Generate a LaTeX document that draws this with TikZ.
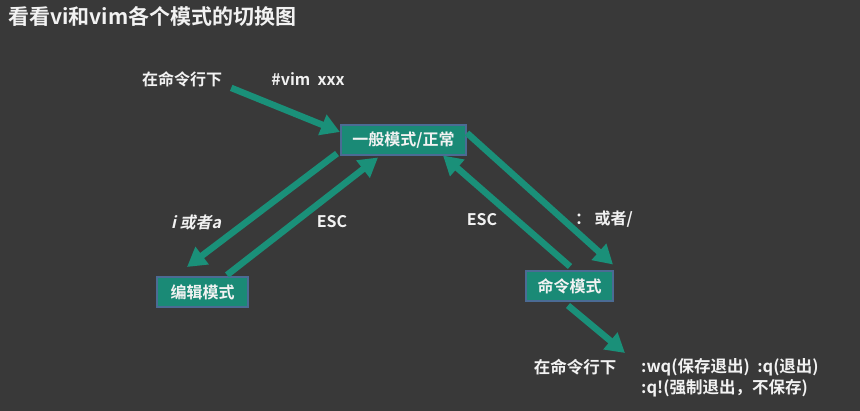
\documentclass[tikz,border=0pt]{standalone}
\usepackage{fontspec}
\setmainfont{Noto Sans CJK SC}[BoldFont={* Bold}]
\newfontfamily\slantcjk{Noto Sans CJK SC Bold}[FakeSlant=0.22]
\usetikzlibrary{arrows.meta,calc}
\definecolor{board}{HTML}{393939}
\definecolor{tealbox}{HTML}{1A8A76}
\definecolor{tealarr}{HTML}{1A9079}
\definecolor{boxedge}{HTML}{4B6B94}
\definecolor{chalk}{HTML}{F2F2F2}
\tikzset{
  modebox/.style={draw=boxedge, line width=2pt, fill=tealbox, text=chalk,
    font=\fontsize{16}{18}\selectfont\bfseries, inner sep=0pt, minimum height=30pt},
  lbl/.style={text=chalk, font=\fontsize{16}{18}\selectfont\bfseries, inner sep=0pt},
  arr/.style={draw=tealarr, line width=6.5pt, -{Triangle[width=21pt,length=19pt]}},
}
\begin{document}
\begin{tikzpicture}[x=1pt,y=-1pt]
\useasboundingbox (0,0) rectangle (860,411);
\fill[board] (0,0) rectangle (860,411);

\node[text=chalk, font=\fontsize{21}{23}\selectfont\bfseries, anchor=west, inner sep=0pt] (title) at (8,16) {看看vi和vim各个模式的切换图};

\node[modebox, minimum width=125pt] (b1) at (403.5,140.5) {一般模式/正常};
\node[modebox, minimum width=91pt] (b2) at (202.5,292) {编辑模式};
\node[modebox, minimum width=87pt] (b3) at (569.5,286.5) {命令模式};

\node[lbl] (cmd1) at (182,79) {在命令行下};
\node[lbl] (vim) at (308,79) {\#vim\ \ xxx};
\node[lbl, font=\fontsize{16}{18}\selectfont\slantcjk] (ia) at (196,222) {i 或者a};
\node[lbl] (esc1) at (332,222) {ESC};
\node[lbl] (esc2) at (482,220) {ESC};
\node[lbl] (colon) at (604,219) {： 或者/};
\node[lbl, font=\fontsize{16.5}{18}\selectfont\bfseries] (cmd2) at (575,367) {在命令行下};
\node[lbl, font=\fontsize{16.5}{18}\selectfont\bfseries, anchor=west] (wq) at (641,367) {:wq(保存退出)\ \ :q(退出)};
\node[lbl, font=\fontsize{16.5}{18}\selectfont\bfseries, anchor=west] (qq) at (641,388) {:q!(强制退出，不保存)};

\coordinate (s1) at ([xshift=9pt,yshift=-1pt]cmd1.south east);
\coordinate (t6) at (625,353);

\draw[arr] (s1) -- ([yshift=8.5pt]b1.west);
\draw[arr] ([xshift=-3pt,yshift=3pt]b1.south west) -- ([xshift=31pt,yshift=9pt]b2.north west);
\draw[arr] ([xshift=24.5pt,yshift=1pt]b2.north) -- ([xshift=-25.5pt,yshift=-1pt]b1.south);
\draw[arr] ([yshift=7.5pt]b1.east) -- ([xshift=-1pt,yshift=6pt]b3.north east);
\draw[arr] ([xshift=0.5pt,yshift=4pt]b3.north) -- ([xshift=-24pt,yshift=1pt]b1.south east);
\draw[arr] ([xshift=-1.5pt,yshift=-3pt]b3.south) -- (t6);
\end{tikzpicture}
\end{document}
